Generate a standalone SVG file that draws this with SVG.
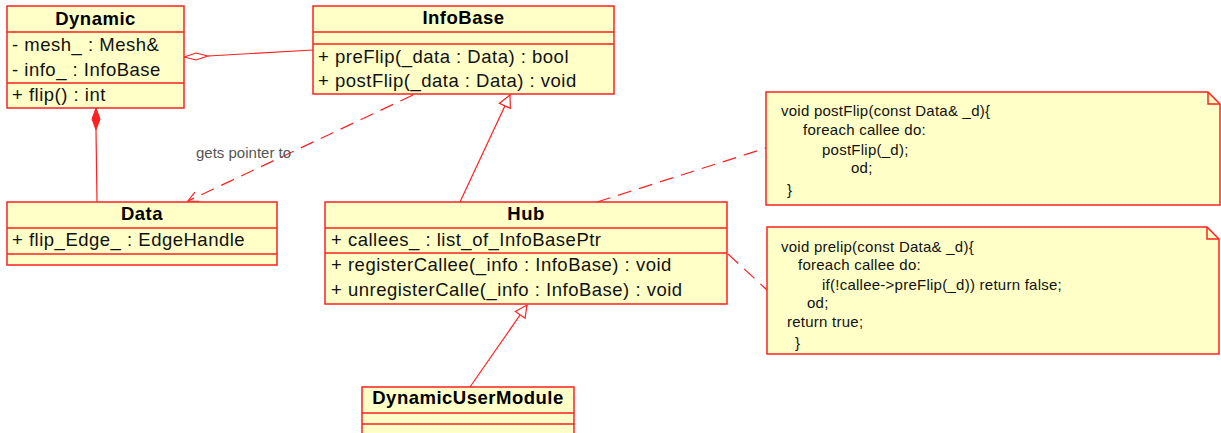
<svg xmlns="http://www.w3.org/2000/svg" width="1221" height="433" viewBox="0 0 1221 433">
  <style>
    .box { fill: #ffffc8; stroke: #ff2020; stroke-width: 1.5; }
    .sep { stroke: #ff2020; stroke-width: 1.5; fill: none; }
    .title { font-family: "Liberation Sans", Arial, sans-serif; font-size: 18.5px; font-weight: bold; letter-spacing: 0.5px; fill: #000; text-anchor: middle; }
    .member { font-family: "Liberation Sans", Arial, sans-serif; font-size: 18.5px; letter-spacing: 0.5px; fill: #111; }
    .note { font-family: "Liberation Sans", Arial, sans-serif; font-size: 15px; letter-spacing: 0.25px; fill: #111; }
    .label { font-family: "Liberation Sans", Arial, sans-serif; font-size: 15px; fill: #555; }
    .line { stroke: #ff2020; stroke-width: 1.2; fill: none; }
    .dash { stroke: #ff2020; stroke-width: 1.2; fill: none; stroke-dasharray: 14 8; }
  </style>
  <defs>
    <marker id="hollowTri" viewBox="0 0 14 14" refX="13" refY="7" markerWidth="14" markerHeight="14" markerUnits="userSpaceOnUse" orient="auto">
      <path d="M1,1 L13,7 L1,13 Z" fill="#fff" stroke="#ff2020" stroke-width="1.2"/>
    </marker>
    <marker id="openArrow" viewBox="0 0 12 12" refX="11" refY="6" markerWidth="12" markerHeight="12" markerUnits="userSpaceOnUse" orient="auto">
      <path d="M1,1 L11,6 L1,11" fill="none" stroke="#ff2020" stroke-width="1.2"/>
    </marker>
  </defs>

  <!-- connectors -->
  <g id="connectors">
    <!-- aggregation: Dynamic <>— InfoBase -->
    <path class="line" d="M208,56 L313,50"/>
    <path d="M184,57 L196,53 L208,56 L196,60 Z" fill="#fff" stroke="#ff2020" stroke-width="1.2"/>
    <!-- composition: Dynamic ◆— Data -->
    <path class="line" d="M96,130 L97,202"/>
    <path d="M96,108 L100,119 L96,130 L92,119 Z" fill="#ff2020" stroke="#ff2020" stroke-width="1"/>
    <!-- dependency: InfoBase - - > Data -->
    <path class="dash" d="M413,95 L188,201" marker-end="url(#openArrow)"/>
    <text class="label" x="196" y="158">gets pointer to</text>
    <!-- generalization: Hub → InfoBase -->
    <path class="line" d="M460,202 L510,95" marker-end="url(#hollowTri)"/>
    <!-- generalization: DynamicUserModule → Hub -->
    <path class="line" d="M470,387 L527,305" marker-end="url(#hollowTri)"/>
    <!-- note anchors -->
    <path class="dash" d="M597,202 L766,148"/>
    <path class="dash" d="M728,254 L767,290"/>
  </g>

  <g id="Dynamic">
    <rect class="box" x="7" y="6" width="177" height="102"/>
    <line class="sep" x1="7" y1="32" x2="184" y2="32"/>
    <line class="sep" x1="7" y1="83" x2="184" y2="83"/>
    <text class="title" x="95.5" y="25">Dynamic</text>
    <text class="member" x="12" y="51">- mesh_ : Mesh&amp;</text>
    <text class="member" x="12" y="76">- info_ : InfoBase</text>
    <text class="member" x="12" y="101">+ flip() : int</text>
  </g>

  <g id="InfoBase">
    <rect class="box" x="313" y="6" width="301" height="88"/>
    <line class="sep" x1="313" y1="32" x2="614" y2="32"/>
    <line class="sep" x1="313" y1="44" x2="614" y2="44"/>
    <text class="title" x="463.5" y="24">InfoBase</text>
    <text class="member" x="318" y="63">+ preFlip(_data : Data) : bool</text>
    <text class="member" x="318" y="87">+ postFlip(_data : Data) : void</text>
  </g>

  <g id="Data">
    <rect class="box" x="7" y="202" width="270" height="63"/>
    <line class="sep" x1="7" y1="228" x2="277" y2="228"/>
    <line class="sep" x1="7" y1="254" x2="277" y2="254"/>
    <text class="title" x="142" y="220">Data</text>
    <text class="member" x="12" y="246">+ flip_Edge_ : EdgeHandle</text>
  </g>

  <g id="Hub">
    <rect class="box" x="325" y="202" width="402" height="102"/>
    <line class="sep" x1="325" y1="228" x2="727" y2="228"/>
    <line class="sep" x1="325" y1="253" x2="727" y2="253"/>
    <text class="title" x="526" y="220">Hub</text>
    <text class="member" x="331" y="246">+ callees_ : list_of_InfoBasePtr</text>
    <text class="member" x="331" y="271">+ registerCallee(_info : InfoBase) : void</text>
    <text class="member" x="331" y="296">+ unregisterCalle(_info : InfoBase) : void</text>
  </g>

  <g id="DynamicUserModule">
    <rect class="box" x="362" y="387" width="212" height="60"/>
    <line class="sep" x1="362" y1="413" x2="574" y2="413"/>
    <line class="sep" x1="362" y1="424" x2="574" y2="424"/>
    <text class="title" x="468" y="404">DynamicUserModule</text>
  </g>

  <g id="notePostFlip">
    <path class="box" d="M766,92 L1208,92 L1220,104 L1220,205 L766,205 Z"/>
    <path class="sep" d="M1208,92 L1208,104 L1220,104"/>
    <text class="note" x="781" y="116">void postFlip(const Data&amp; _d){</text>
    <text class="note" x="803" y="135">foreach callee do:</text>
    <text class="note" x="822" y="155">postFlip(_d);</text>
    <text class="note" x="851" y="173">od;</text>
    <text class="note" x="787" y="195">}</text>
  </g>

  <g id="notePreFlip">
    <path class="box" d="M767,227 L1207,227 L1219,239 L1219,354 L767,354 Z"/>
    <path class="sep" d="M1207,227 L1207,239 L1219,239"/>
    <text class="note" x="781" y="252">void prelip(const Data&amp; _d){</text>
    <text class="note" x="798" y="270">foreach callee do:</text>
    <text class="note" x="822" y="290">if(!callee-&gt;preFlip(_d)) return false;</text>
    <text class="note" x="807" y="308">od;</text>
    <text class="note" x="787" y="327">return true;</text>
    <text class="note" x="795" y="348">}</text>
  </g>
</svg>
